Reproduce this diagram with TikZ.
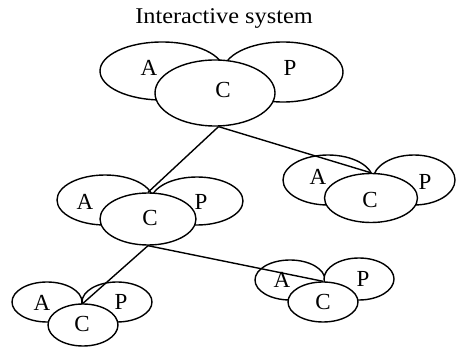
\documentclass[tikz,border=0pt]{standalone}
\usepackage{fontspec}
\setmainfont{Liberation Serif}
\newfontfamily\widefont[FakeStretch=1.08]{Liberation Serif}
\usetikzlibrary{shapes}

\begin{document}
\begin{tikzpicture}[x=1pt, y=-1pt, every path/.style={line width=1.4pt}, every node/.style={inner sep=0pt, font=\fontsize{23}{25}\selectfont}]
\tikzset{part/.style={draw, ellipse, fill=white, inner sep=0pt}}
\useasboundingbox (0,0) rectangle (458,347);

\node[font=\fontsize{22.5}{25}\widefont] (title) at (224,18) {Interactive system};

\node[part, minimum width=124, minimum height=58] (a1) at (162,71) {};
\node[part, minimum width=120, minimum height=60] (p1) at (283,72) {};
\node[part, minimum width=120, minimum height=66] (c1) at (215,93) {};
\node (ta1) at (149,68) {A};
\node (tp1) at (290,68) {P};
\node (tc1) at (223,90) {C};

\node[part, minimum width=96, minimum height=50] (a2) at (105,200) {};
\node[part, minimum width=92, minimum height=48] (p2) at (197,201) {};
\node[part, minimum width=96, minimum height=52] (c2) at (148,219) {};
\node (ta2) at (85,202) {A};
\node (tp2) at (201,202) {P};
\node (tc2) at (150,218) {C};

\node[part, minimum width=90, minimum height=50] (a3) at (328,180) {};
\node[part, minimum width=82, minimum height=50] (p3) at (414,180) {};
\node[part, minimum width=93, minimum height=49] (c3) at (371,198) {};
\node (ta3) at (318,177) {A};
\node (tp3) at (425,182) {P};
\node (tc3) at (370,200) {C};

\node[part, minimum width=70, minimum height=40] (a4) at (47,302) {};
\node[part, minimum width=70, minimum height=40] (p4) at (117,302) {};
\node[part, minimum width=70, minimum height=42] (c4) at (83,325) {};
\node (ta4) at (42,303) {A};
\node (tp4) at (121,302) {P};
\node (tc4) at (82,324) {C};

\node[part, minimum width=70, minimum height=40] (a5) at (290,280) {};
\node[part, minimum width=70, minimum height=42] (p5) at (359,279) {};
\node[part, minimum width=70, minimum height=40] (c5) at (323,302) {};
\node (ta5) at (282,280) {A};
\node (tp5) at (363,279) {P};
\node (tc5) at (323,302) {C};

\draw (c1.-84) -- (c2.north);
\draw (c1.-84) -- (c3.north);
\draw (c2.south) -- (c4.north);
\draw (c2.south) -- (c5.north);
\end{tikzpicture}
\end{document}
